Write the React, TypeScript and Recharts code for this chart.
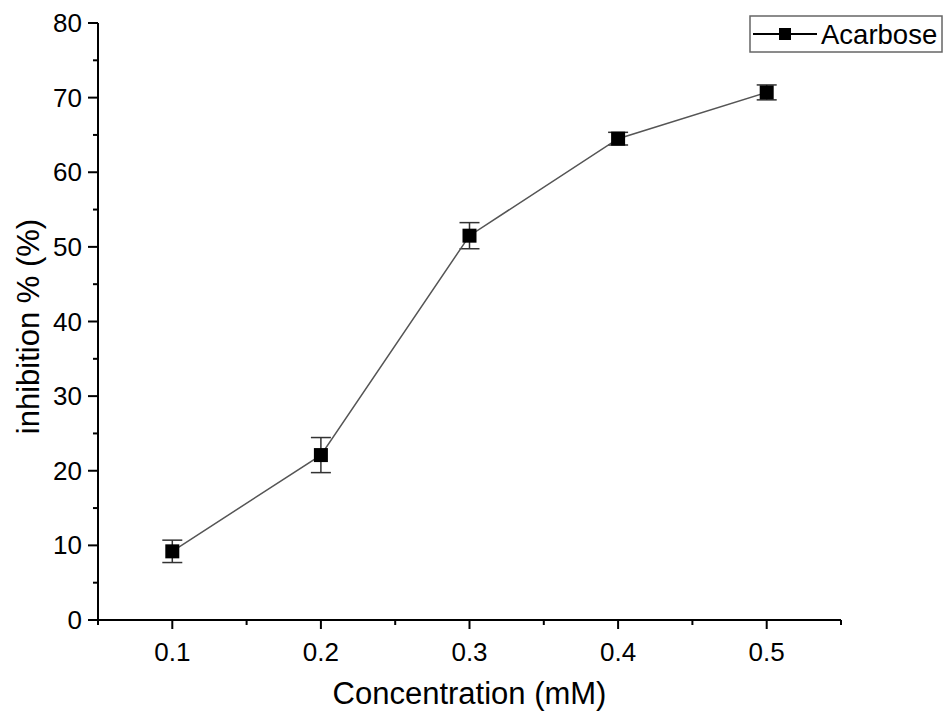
import React from 'react';
import { LineChart, Line, XAxis, YAxis, ErrorBar } from 'recharts';

const concentrations = [0.1, 0.2, 0.3, 0.4, 0.5];
const inhibition = [9.2, 22.1, 51.5, 64.5, 70.7];
const inhibitionErr = [1.5, 2.35, 1.75, 0.85, 1.0];
const xTicks = [0.05, 0.1, 0.15, 0.2, 0.25, 0.3, 0.35, 0.4, 0.45, 0.5, 0.55];
const xLabels = ['0.1', '0.2', '0.3', '0.4', '0.5'];
const yTicks = [0, 5, 10, 15, 20, 25, 30, 35, 40, 45, 50, 55, 60, 65, 70, 75, 80];
const seriesName = 'Acarbose';
const xTitle = 'Concentration (mM)';
const yTitle = 'inhibition % (%)';

const data = concentrations.map((c, i) => ({ x: c, y: inhibition[i], err: inhibitionErr[i] }));

const FONT = 'Arial, "Liberation Sans", sans-serif';

const XTick = (props: any) => {
  const { x, y, index } = props;
  const major = index % 2 === 1;
  const label = major ? xLabels[(index - 1) / 2] : '';
  return (
    <g>
      <line x1={x} x2={x} y1={y} y2={y + (major ? 9 : 5)} stroke="#000" strokeWidth={2} />
      {label && (
        <text x={x} y={y + 41} textAnchor="middle" fontSize={26} fontFamily={FONT} fill="#000">
          {label}
        </text>
      )}
    </g>
  );
};

const YTick = (props: any) => {
  const { x, y, payload } = props;
  const v = payload.value;
  const major = v % 10 === 0;
  return (
    <g>
      <line x1={x} x2={x - (major ? 10 : 5)} y1={y} y2={y} stroke="#000" strokeWidth={2} />
      {major && (
        <text x={x - 16} y={y + 9} textAnchor="end" fontSize={26} fontFamily={FONT} fill="#000">
          {v}
        </text>
      )}
    </g>
  );
};

const XTitle = (props: any) => {
  const vb = props.viewBox || {};
  return (
    <text x={vb.x + vb.width / 2} y={704} textAnchor="middle" fontSize={31} fontFamily={FONT} fill="#000">
      {xTitle}
    </text>
  );
};

const YTitle = (props: any) => {
  const vb = props.viewBox || {};
  const cy = vb.y + vb.height / 2 + 5;
  return (
    <text x={39} y={cy} transform={`rotate(-90 39 ${cy})`} textAnchor="middle" fontSize={31} fontFamily={FONT} fill="#000">
      {yTitle}
    </text>
  );
};

const Square = (props: any) => {
  const { cx, cy } = props;
  if (cx == null || cy == null) return null;
  return <rect x={cx - 7} y={cy - 7} width={14} height={14} fill="#000" />;
};

const LegendBox = () => (
  <svg width={194} height={38} style={{ display: 'block' }}>
    <rect x={1} y={1} width={192} height={36} fill="#fff" stroke="#666" strokeWidth={1.5} />
    <line x1={4} x2={68} y1={19} y2={19} stroke="#000" strokeWidth={2} />
    <rect x={30} y={13} width={12} height={12} fill="#000" />
    <text x={72} y={29} fontSize={27.5} fontFamily={FONT} fill="#000">{seriesName}</text>
  </svg>
);

export default function App() {
  return (
    <div style={{ position: 'absolute', left: 0, top: 0, width: 952, height: 728, background: '#fff' }}>
      <LineChart width={952} height={728} data={data} margin={{ top: 23, right: 111, left: 0, bottom: 0 }}>
        <XAxis
          dataKey="x"
          type="number"
          domain={[0.05, 0.55]}
          ticks={xTicks}
          interval={0}
          height={108}
          axisLine={{ stroke: '#000', strokeWidth: 2 }}
          tickLine={false}
          tickSize={0}
          tickMargin={0}
          tick={<XTick />}
          label={<XTitle />}
        />
        <YAxis
          type="number"
          domain={[0, 80]}
          ticks={yTicks}
          interval={0}
          width={98}
          axisLine={{ stroke: '#000', strokeWidth: 2 }}
          tickLine={false}
          tickSize={0}
          tickMargin={0}
          tick={<YTick />}
          label={<YTitle />}
        />
        <Line
          dataKey="y"
          name={seriesName}
          stroke="#555"
          strokeWidth={1.5}
          dot={<Square />}
          activeDot={false}
          isAnimationActive={false}
        >
          <ErrorBar dataKey="err" width={10} stroke="#333" strokeWidth={1.5} direction="y" isAnimationActive={false} />
        </Line>
      </LineChart>
      <div style={{ position: 'absolute', left: 749, top: 15 }}>
        <LegendBox />
      </div>
    </div>
  );
}
